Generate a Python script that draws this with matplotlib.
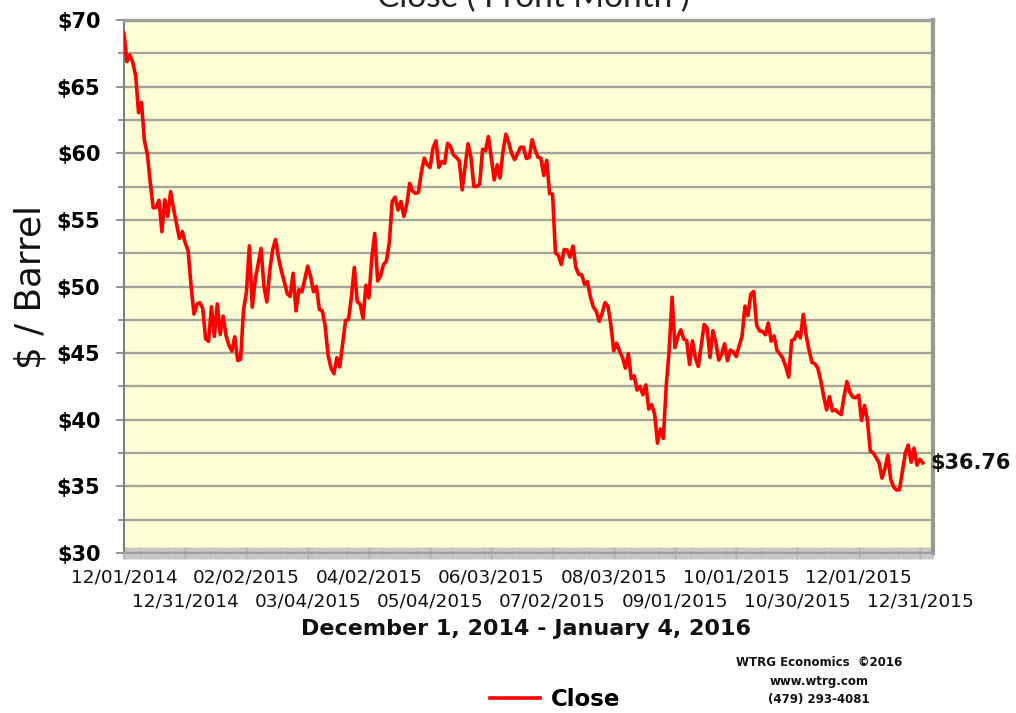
import numpy as np
import pandas as pd
import matplotlib
matplotlib.use('Agg')
import matplotlib.pyplot as plt
from matplotlib.ticker import FixedLocator, MultipleLocator, NullFormatter
from matplotlib.transforms import blended_transform_factory

# WTI front month close, one list per month (trading days)
dec14 = [69.00, 66.88, 67.38, 66.81, 65.84, 63.05, 63.82, 60.94, 59.95, 57.81, 55.91,
         55.93, 56.47, 54.11, 56.52, 55.26, 57.12, 55.84, 54.73, 53.61, 54.12, 53.27]
jan15 = [52.69, 50.04, 47.93, 48.65, 48.79, 48.36, 46.07, 45.89, 48.48, 46.25,
         48.69, 46.39, 47.78, 46.31, 45.59, 45.15, 46.23, 44.45, 44.53, 48.24]
feb15 = [49.57, 53.05, 48.45, 50.48, 51.69, 52.86, 50.02, 48.84, 51.21, 52.78,
         53.53, 52.14, 51.16, 50.34, 49.45, 49.25, 50.99, 48.17, 49.76]
mar15 = [49.59, 50.52, 51.53, 50.76, 49.61, 50.00, 48.29, 48.17, 47.05, 44.84, 43.88,
         43.46, 44.66, 43.96, 45.72, 47.45, 47.51, 49.21, 51.43, 48.87, 48.68, 47.60]
apr15 = [50.09, 49.14, 52.14, 53.98, 50.42, 50.79, 51.64, 51.91, 53.29, 56.39, 56.71,
         55.74, 56.38, 55.26, 56.16, 57.74, 57.15, 56.99, 57.06, 58.58, 59.63]
may15 = [59.15, 58.93, 60.40, 60.93, 58.94, 59.39, 59.25, 60.75, 60.50, 59.88,
         59.69, 59.43, 57.26, 58.98, 60.72, 59.72, 57.51, 57.51, 57.68, 60.30]
jun15 = [60.20, 61.26, 59.64, 58.00, 59.13, 58.14, 60.14, 61.43, 60.77, 59.96, 59.52,
         59.97, 60.45, 60.45, 59.61, 59.68, 61.01, 60.27, 59.70, 59.63, 58.33, 59.47]
jul15 = [56.96, 56.93, 52.53, 52.33, 51.65, 52.78, 52.74, 52.20, 53.04, 51.41, 50.91,
         50.89, 50.15, 50.36, 49.19, 48.45, 48.14, 47.39, 47.98, 48.79, 48.52, 47.12]
aug15 = [45.17, 45.74, 45.15, 44.66, 43.87, 44.96, 43.08, 43.30, 42.23, 42.50, 41.87,
         42.62, 40.80, 41.14, 40.45, 38.24, 39.31, 38.60, 42.56, 45.22, 49.20]
sep15 = [45.41, 46.25, 46.75, 46.05, 45.94, 44.15, 45.92, 44.63, 44.00, 45.59, 47.15,
         46.90, 44.68, 46.68, 45.83, 44.48, 44.91, 45.70, 44.43, 45.23, 45.09]
oct15 = [44.74, 45.54, 46.26, 48.53, 47.81, 49.43, 49.63, 47.10, 46.66, 46.64, 46.38,
         47.26, 45.89, 46.29, 45.20, 44.94, 44.60, 43.98, 43.20, 45.94, 46.06, 46.59]
nov15 = [46.14, 47.90, 46.32, 45.20, 44.29, 44.21, 43.87, 42.93, 41.75, 40.74,
         41.74, 40.67, 40.75, 40.54, 40.39, 41.75, 42.87, 42.04, 41.71, 41.65]
dec15 = [41.85, 39.94, 41.08, 39.97, 37.65, 37.51, 37.16, 36.76, 35.62, 36.31, 37.35,
         35.52, 34.95, 34.73, 34.74, 36.14, 37.50, 38.10, 36.81, 37.87, 36.60, 37.04]
jan16 = [36.76]

holidays = ['2014-12-25', '2015-01-01', '2015-01-19', '2015-02-16', '2015-04-03',
            '2015-05-25', '2015-07-03', '2015-09-07', '2015-11-26', '2015-12-25']

tick_labels = ['12/01/2014', '12/31/2014', '02/02/2015', '03/04/2015', '04/02/2015',
               '05/04/2015', '06/03/2015', '07/02/2015', '08/03/2015', '09/01/2015',
               '10/01/2015', '10/30/2015', '12/01/2015', '12/31/2015']

close = np.array(dec14 + jan15 + feb15 + mar15 + apr15 + may15 + jun15 + jul15 +
                 aug15 + sep15 + oct15 + nov15 + dec15 + jan16)
dates = pd.bdate_range('2014-12-01', '2016-01-04', freq='C', holidays=holidays)
x = np.arange(len(close))
tick_pos = dates.get_indexer(pd.to_datetime(tick_labels, format='%m/%d/%Y'))

fig = plt.figure(figsize=(10.16, 7.13), dpi=100)
ax = fig.add_axes([124 / 1016, 1 - 553 / 713, (933 - 124) / 1016, (553 - 20) / 713])
ax.set_facecolor('#ffffd6')

ax.plot(x, close, color='#ff0000', lw=2.6, zorder=3, label='Close')

ax.set_xlim(0, 277.5)
ax.set_ylim(30, 70)

ax.yaxis.set_major_locator(MultipleLocator(5))
ax.yaxis.set_minor_locator(MultipleLocator(2.5))
ax.set_yticklabels(['$%d' % v for v in ax.get_yticks()])
ax.grid(axis='y', which='both', color='#a4a498', lw=1.7, zorder=1)
ax.tick_params(axis='y', which='major', length=6, width=1.2, color='#808080', pad=11,
               labelsize=15)
ax.tick_params(axis='y', which='minor', length=4, width=1.2, color='#808080')
for lab in ax.get_yticklabels():
    lab.set_fontweight('bold')

# dense gray tick band along the bottom, one tick per trading day
ax.xaxis.set_major_locator(FixedLocator(tick_pos))
ax.xaxis.set_major_formatter(NullFormatter())
ax.xaxis.set_minor_locator(FixedLocator(np.arange(0, 278)))
ax.tick_params(axis='x', which='major', direction='inout', length=9, width=2,
               color='#b4b4b4')
ax.tick_params(axis='x', which='minor', direction='inout', length=9, width=2,
               color='#c4c4c4')

# two staggered rows of date labels
xtrans = blended_transform_factory(ax.transData, fig.transFigure)
for i, (p, t) in enumerate(zip(tick_pos, tick_labels)):
    yy = 577 if i % 2 == 0 else 601
    ax.text(p, 1 - yy / 713, t, transform=xtrans, ha='center', va='center',
            fontsize=13.3, color='#111111')

ax.spines['left'].set_color('#808080')
ax.spines['left'].set_linewidth(1.5)
ax.spines['top'].set_color('#a0a0a0')
ax.spines['top'].set_linewidth(2.5)
ax.spines['right'].set_color('#989898')
ax.spines['right'].set_linewidth(3)
ax.spines['bottom'].set_color('#a0a0a0')
ax.spines['bottom'].set_linewidth(1.5)

# last value label, sits just right of the plot frame
trans = blended_transform_factory(ax.transAxes, ax.transData)
ax.text(0.997, close[-1], '$%.2f' % close[-1], transform=trans, ha='left', va='center',
        fontsize=15, fontweight='bold', color='#111111')

fig.text(0.525, 1 - 7 / 713, 'Close ( Front Month )', ha='center', va='baseline',
         fontsize=24, family=['Lato', 'DejaVu Sans'], color='#222222')
fig.text(30 / 1016, 1 - 287 / 713, '$ / Barrel', rotation=90, ha='center', va='center',
         fontsize=25.7, color='#111111')
fig.text(526 / 1016, 1 - 629 / 713, 'December 1, 2014 - January 4, 2016', ha='center',
         va='center', fontsize=16, fontweight='bold', color='#111111')

for yy, s in [(663, 'WTRG Economics  \u00a92016'), (682, 'www.wtrg.com'),
              (700, '(479) 293-4081')]:
    fig.text(819 / 1016, 1 - yy / 713, s, ha='center', va='center', fontsize=8.5,
             fontweight='bold', color='#111111')

leg = ax.legend(loc='center', bbox_to_anchor=(555 / 1016, 1 - 700 / 713),
                bbox_transform=fig.transFigure, frameon=False, handlelength=2.2,
                handletextpad=0.48, prop={'size': 16.5, 'weight': 'bold'})

fig.savefig('out.png', dpi=100, facecolor='white')
